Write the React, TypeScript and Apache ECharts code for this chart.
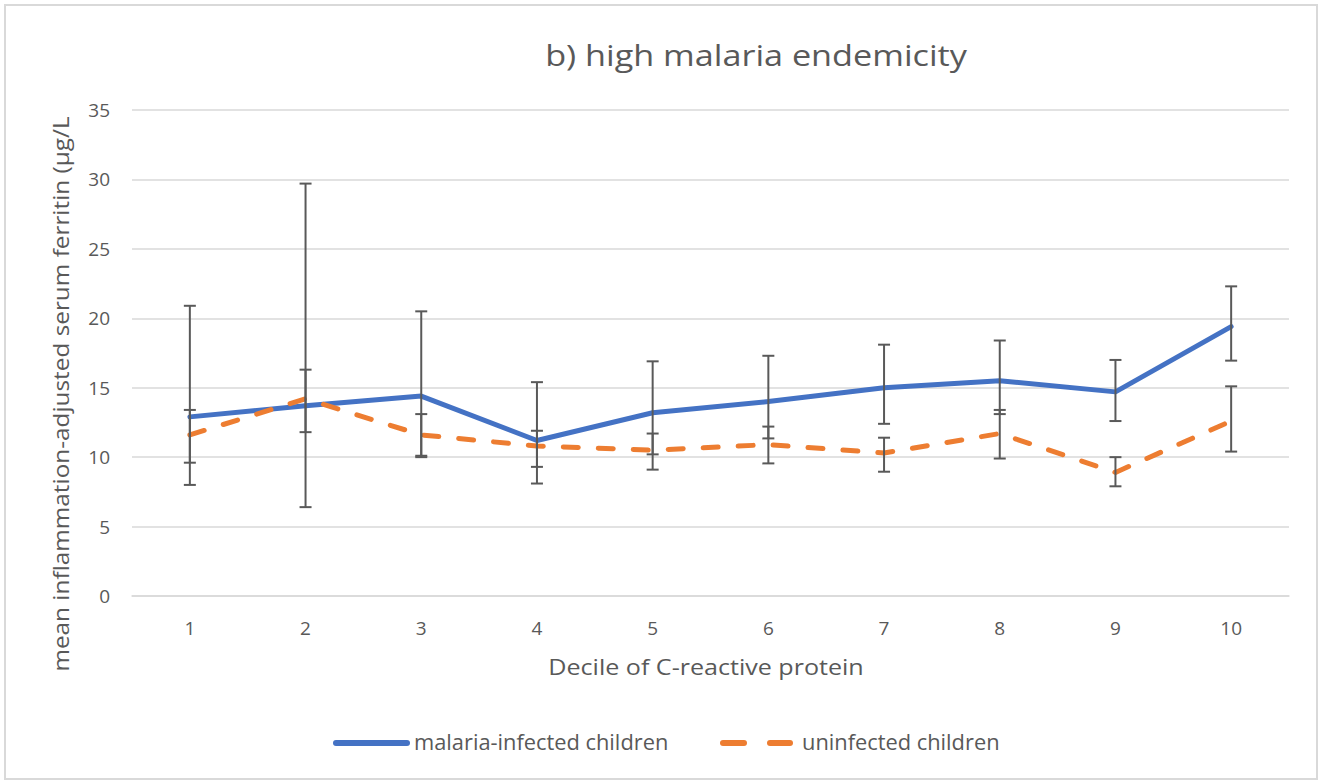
import React, { useEffect, useRef } from "react";
import * as echarts from "echarts";

const categories = ["1", "2", "3", "4", "5", "6", "7", "8", "9", "10"];
const infectedMean = [12.9, 13.7, 14.4, 11.2, 13.2, 14.0, 15.0, 15.5, 14.7, 19.4];
const infectedLow = [8.0, 6.4, 10.0, 8.1, 10.2, 11.35, 12.4, 13.1, 12.6, 16.95];
const infectedHigh = [20.9, 29.7, 20.5, 15.4, 16.9, 17.3, 18.1, 18.4, 17.0, 22.3];
const uninfectedMean = [11.6, 14.2, 11.6, 10.8, 10.5, 10.9, 10.3, 11.7, 8.9, 12.6];
const uninfectedLow = [9.6, 11.8, 10.1, 9.3, 9.1, 9.55, 8.95, 9.9, 7.9, 10.4];
const uninfectedHigh = [13.4, 16.3, 13.1, 11.9, 11.7, 12.2, 11.4, 13.4, 10.0, 15.1];

const seriesNames = ["malaria-infected children", "uninfected children"];
const titleText = "b) high malaria endemicity";
const yAxisTitle = "mean inflammation-adjusted serum ferritin (µg/L";
const xAxisTitle = "Decile of C-reactive protein";

const FONT = "'Open Sans', 'Noto Sans', sans-serif";
const TEXT_COLOR = "#595959";
const BLUE = "#4472C4";
const ORANGE = "#ED7D31";

function errorBarSeries(low: number[], high: number[], name: string) {
  return {
    type: "custom",
    name,
    z: 5,
    silent: true,
    renderItem: (_params: any, api: any) => {
      const x = api.value(0);
      const lo = api.coord([x, api.value(1)]);
      const hi = api.coord([x, api.value(2)]);
      const hw = 6;
      const style = { stroke: "#595959", lineWidth: 2 };
      return {
        type: "group",
        children: [
          { type: "line", shape: { x1: lo[0], y1: lo[1], x2: hi[0], y2: hi[1] }, style },
          { type: "line", shape: { x1: lo[0] - hw, y1: lo[1], x2: lo[0] + hw, y2: lo[1] }, style },
          { type: "line", shape: { x1: hi[0] - hw, y1: hi[1], x2: hi[0] + hw, y2: hi[1] }, style },
        ],
      };
    },
    data: categories.map((_c, i) => [i, low[i], high[i]]),
  };
}

export default function App() {
  const ref = useRef<HTMLDivElement>(null);
  useEffect(() => {
    if (!ref.current) return;
    const chart = echarts.init(ref.current, undefined, { renderer: "svg" });
    chart.setOption({
      animation: false,
      backgroundColor: "#ffffff",
      grid: { left: 132, right: 39, top: 110, bottom: 186, containLabel: false },
      xAxis: {
        type: "category",
        data: categories,
        boundaryGap: true,
        axisLine: { show: true, lineStyle: { color: "#d9d9d9", width: 1.5 } },
        axisTick: { show: false },
        axisLabel: { fontFamily: FONT, fontSize: 19, color: TEXT_COLOR, margin: 22 },
      },
      yAxis: {
        type: "value",
        min: 0,
        max: 35,
        interval: 5,
        axisLine: { show: false },
        axisTick: { show: false },
        splitLine: { lineStyle: { color: "#d9d9d9", width: 1.5 } },
        axisLabel: { fontFamily: FONT, fontSize: 19, color: TEXT_COLOR, margin: 22 },
      },
      graphic: [
        {
          type: "rect",
          shape: { x: 5, y: 5, width: 1312, height: 774 },
          style: { fill: "none", stroke: "#d9d9d9", lineWidth: 2 },
          silent: true,
        },
        {
          type: "text",
          x: 756,
          y: 55,
          scaleX: 1.18,
          style: {
            text: titleText,
            fontFamily: FONT,
            fontSize: 29,
            fill: TEXT_COLOR,
            align: "center",
            verticalAlign: "middle",
          },
        },
        {
          type: "text",
          x: 60,
          y: 394,
          rotation: Math.PI / 2,
          scaleX: 1.107,
          style: {
            text: yAxisTitle,
            fontFamily: FONT,
            fontSize: 22,
            fill: TEXT_COLOR,
            align: "center",
            verticalAlign: "middle",
          },
        },
        {
          type: "text",
          x: 706,
          y: 667,
          scaleX: 1.14,
          style: {
            text: xAxisTitle,
            fontFamily: FONT,
            fontSize: 22,
            fill: TEXT_COLOR,
            align: "center",
            verticalAlign: "middle",
          },
        },
        // legend
        {
          type: "line",
          shape: { x1: 336, y1: 743, x2: 407, y2: 743 },
          style: { stroke: BLUE, lineWidth: 6, lineCap: "round" },
        },
        {
          type: "text",
          x: 414,
          y: 742,
          scaleX: 1.04,
          style: {
            text: seriesNames[0],
            fontFamily: FONT,
            fontSize: 21,
            fill: TEXT_COLOR,
            align: "left",
            verticalAlign: "middle",
          },
        },
        {
          type: "line",
          shape: { x1: 723, y1: 743, x2: 744, y2: 743 },
          style: { stroke: ORANGE, lineWidth: 6, lineCap: "round" },
        },
        {
          type: "line",
          shape: { x1: 770, y1: 743, x2: 790, y2: 743 },
          style: { stroke: ORANGE, lineWidth: 6, lineCap: "round" },
        },
        {
          type: "text",
          x: 802,
          y: 742,
          scaleX: 1.04,
          style: {
            text: seriesNames[1],
            fontFamily: FONT,
            fontSize: 21,
            fill: TEXT_COLOR,
            align: "left",
            verticalAlign: "middle",
          },
        },
      ],
      series: [
        {
          name: seriesNames[0],
          type: "line",
          data: infectedMean,
          symbol: "none",
          z: 3,
          lineStyle: { color: BLUE, width: 5, cap: "round", join: "round" },
          itemStyle: { color: BLUE },
        },
        {
          name: seriesNames[1],
          type: "line",
          data: uninfectedMean,
          symbol: "none",
          z: 3,
          lineStyle: { color: ORANGE, width: 5, type: [15, 20], cap: "round", join: "round" },
          itemStyle: { color: ORANGE },
        },
        errorBarSeries(infectedLow, infectedHigh, "err-infected"),
        errorBarSeries(uninfectedLow, uninfectedHigh, "err-uninfected"),
      ],
    });
    return () => chart.dispose();
  }, []);
  return (
    <div
      ref={ref}
      style={{ position: "fixed", left: 0, top: 0, width: 1328, height: 782, background: "#fff" }}
    />
  );
}
